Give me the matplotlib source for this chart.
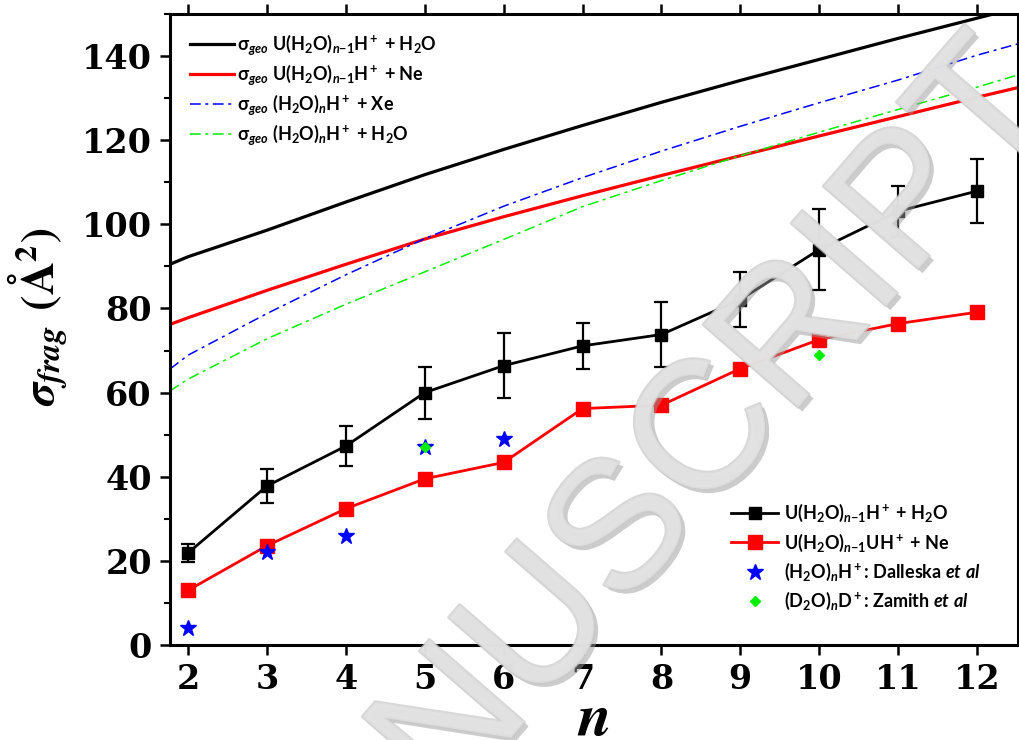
import matplotlib
matplotlib.use('Agg')
import matplotlib.pyplot as plt
import matplotlib.patheffects as pe
from matplotlib.ticker import MultipleLocator

# measured fragmentation cross sections
n = [2, 3, 4, 5, 6, 7, 8, 9, 10, 11, 12]
frag_h2o = [21.9, 37.8, 47.3, 60.0, 66.4, 71.1, 73.8, 82.1, 94.0, 103.1, 107.9]
frag_h2o_err = [2.2, 4.1, 4.7, 6.2, 7.8, 5.4, 7.7, 6.5, 9.6, 6.0, 7.7]
frag_ne = [13.0, 23.6, 32.4, 39.5, 43.4, 56.2, 57.0, 65.7, 72.6, 76.4, 79.1]

# literature values
n_dalleska = [2, 3, 4, 5, 6]
dalleska = [4.1, 22.0, 25.8, 47.0, 48.9]
n_zamith = [5, 10]
zamith = [47.0, 68.9]

# geometric cross sections
n_geo = [1.77, 2, 3, 4, 5, 6, 7, 8, 9, 10, 11, 12, 12.52]
geo_u_h2o = [90.5, 92.3, 98.6, 105.3, 111.8, 117.8, 123.5, 129.0, 134.2, 139.2, 144.2, 149.0, 151.5]
geo_u_ne = [76.2, 77.8, 84.3, 90.5, 96.5, 101.8, 106.8, 111.6, 116.3, 121.0, 125.6, 130.2, 132.5]
geo_w_xe = [65.6, 68.9, 78.8, 88.0, 96.6, 104.3, 111.1, 117.4, 123.3, 128.9, 134.3, 140.2, 142.9]
geo_w_h2o = [60.4, 63.2, 72.8, 81.0, 88.7, 96.4, 104.2, 110.4, 116.3, 121.9, 127.3, 132.6, 135.5]

plt.rcParams['mathtext.fontset'] = 'custom'
plt.rcParams['mathtext.rm'] = 'Lato:bold'
plt.rcParams['mathtext.bf'] = 'Lato:bold'
plt.rcParams['mathtext.it'] = 'Lato:bold:italic'

fig = plt.figure(figsize=(10.19, 7.4), dpi=100)
ax = fig.add_axes([0.1668, 0.1284, 0.8322, 0.8527])

dashdot = (0, (7, 3, 2, 3))
g1, = ax.plot(n_geo, geo_u_h2o, color='black', lw=2.3)
g2, = ax.plot(n_geo, geo_u_ne, color='red', lw=2.3)
g3, = ax.plot(n_geo, geo_w_xe, color='blue', lw=1.1, ls=dashdot)
g4, = ax.plot(n_geo, geo_w_h2o, color='#00ee00', lw=1.1, ls=dashdot)

ax.errorbar(n, frag_h2o, yerr=frag_h2o_err, fmt='none', ecolor='black',
            elinewidth=1.6, capsize=5, capthick=1.6, zorder=3)
d1, = ax.plot(n, frag_h2o, color='black', lw=2, marker='s', ms=9, zorder=4)
d2, = ax.plot(n, frag_ne, color='red', lw=2, marker='s', ms=9.5, zorder=4)
d3, = ax.plot(n_dalleska, dalleska, ls='none', marker='*', ms=12,
              color='blue', zorder=5)
d4, = ax.plot(n_zamith, zamith, ls='none', marker='D', ms=5.5,
              color='#00ee00', zorder=6)

ax.set_xlim(1.77, 12.52)
ax.set_ylim(0, 150)
ax.set_xticks(n)
ax.set_yticks(range(0, 141, 20))
ax.yaxis.set_minor_locator(MultipleLocator(10))
ax.tick_params(which='major', direction='out', length=7, width=1.8,
               top=True, right=False, pad=6)
ax.tick_params(axis='y', which='minor', direction='out', length=4, width=1.5,
               right=False)
for lab in ax.get_xticklabels() + ax.get_yticklabels():
    lab.set_fontfamily('DejaVu Serif')
    lab.set_fontweight('bold')
    lab.set_fontsize(24)
for sp in ax.spines.values():
    sp.set_linewidth(2.2)

ax.set_ylabel(r'$\mathbfit{\sigma_{frag}}$ $\mathbf{(\AA^2)}$', fontsize=33,
              math_fontfamily='stix')
ax.yaxis.set_label_coords(-0.118, 0.52)
# x label sits at the very bottom edge, as in the original figure
fig.text(593 / 1019, 0.006, r'$\mathbfit{n}$', ha='center', va='baseline',
         fontsize=44, math_fontfamily='stix')

fam = ['Lato', 'DejaVu Sans']
leg1 = ax.legend([g1, g2, g3, g4],
                 ['σ$_{geo}$ U(H$_2$O)$_{n{-}1}$H$^+$ + H$_2$O',
                  'σ$_{geo}$ U(H$_2$O)$_{n{-}1}$H$^+$ + Ne',
                  'σ$_{geo}$ (H$_2$O)$_n$H$^+$ + Xe',
                  'σ$_{geo}$ (H$_2$O)$_n$H$^+$ + H$_2$O'],
                 loc='upper left', bbox_to_anchor=(0.004, 0.997), frameon=False,
                 prop={'family': fam, 'weight': 'bold', 'size': 13},
                 handlelength=2.45, handletextpad=0.15, labelspacing=0.28,
                 borderaxespad=0.5)
ax.add_artist(leg1)
ax.legend([d1, d2, d3, d4],
          ['U(H$_2$O)$_{n{-}1}$H$^+$ + H$_2$O',
           'U(H$_2$O)$_{n{-}1}$UH$^+$ + Ne',
           '(H$_2$O)$_n$H$^+$: Dalleska $\\mathit{et\\ al}$',
           '(D$_2$O)$_n$D$^+$: Zamith $\\mathit{et\\ al}$'],
          loc='upper left', bbox_to_anchor=(0.643, 0.252), frameon=False,
          prop={'family': fam, 'weight': 'bold', 'size': 13},
          handlelength=2.6, handletextpad=0.3, labelspacing=0.4,
          borderaxespad=0.5)

# watermark
fig.text(0.617, 0.284, 'MANUSCRIPT', rotation=49, ha='center', va='center',
         fontsize=132, family='Liberation Sans', color='#e2e2e2', alpha=0.7,
         zorder=10,
         path_effects=[pe.withSimplePatchShadow(offset=(3, -3),
                                                shadow_rgbFace='#9a9a9a',
                                                alpha=0.5),
                       pe.withStroke(linewidth=2, foreground='#c8c8c8')])

fig.savefig('out.png', dpi=100)
